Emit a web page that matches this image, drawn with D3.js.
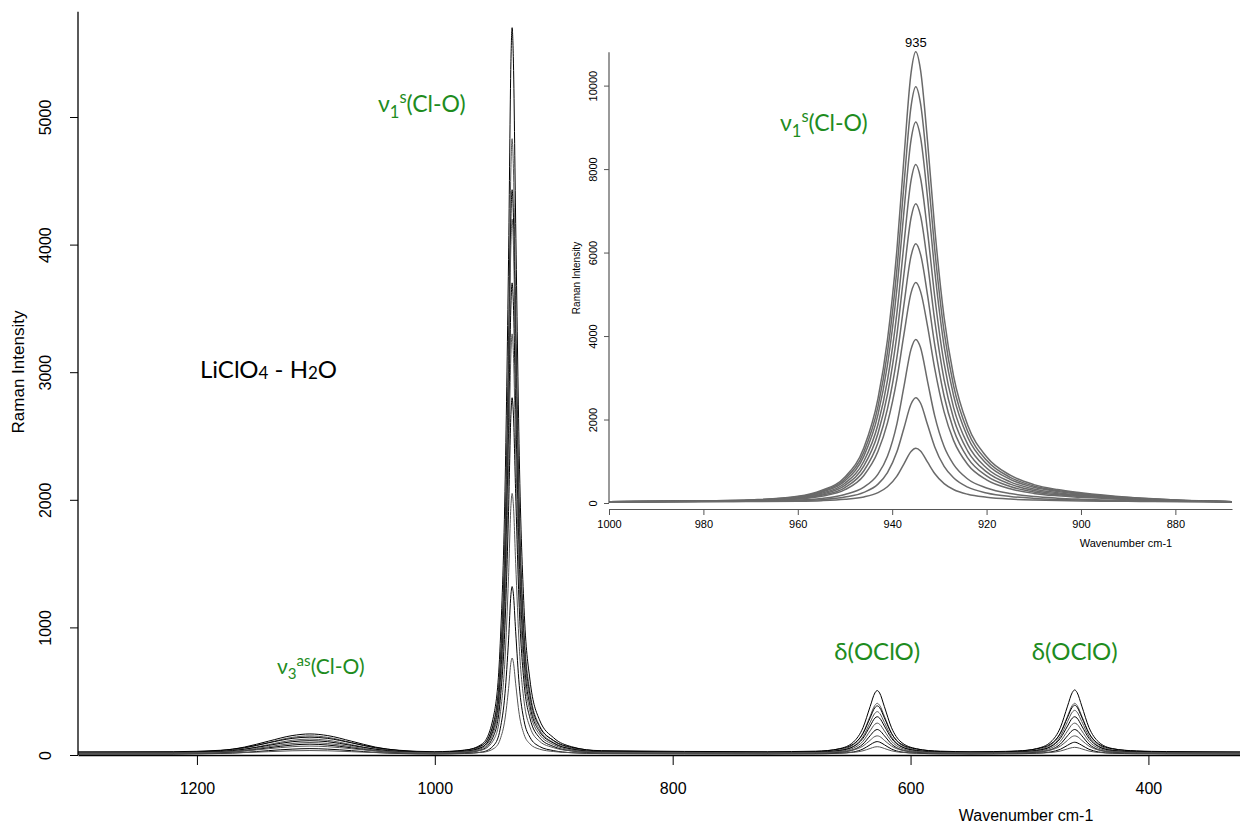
<!DOCTYPE html>
<html><head><meta charset="utf-8">
<script src="https://cdn.jsdelivr.net/npm/d3@7"></script>
<style>body{margin:0;background:#fff}svg{display:block}</style>
</head><body><svg id="c" width="1240" height="825"></svg>
<script>
// ---------- DATA ----------
const mainWavenumbers = [1300,1220,1180,1160,1140,1120,1105,1090,1070,1050,1030,1000,
  975,960,950,945,941,938,936,935,934,932,929,925,920,912,900,885,860,
  720,680,660,648,640,634,630,628,626,622,616,608,595,575,550,
  530,510,494,482,474,468,464,462,460,456,450,442,430,410,385,323];
const mainSeries = [
 [20,21,35,62,108,152,165,152,108,62,35,22, 37,88,332,872,2065,3882,5433,5700,5473,4166,2349,1156,588,276,134,65,31, 21,27,49,102,214,379,486,505,486,379,214,102,49,27,22, 23,30,50,103,216,383,490,510,490,383,216,103,50,30,23,20],
 [15,16,29,54,97,138,150,138,97,54,29,16, 29,73,280,737,1748,3289,4604,4830,4637,3530,1989,978,497,232,111,54,25, 16,21,38,81,171,304,389,405,389,304,171,81,38,21,17, 17,23,39,81,171,304,389,405,389,304,171,81,39,23,17,15],
 [25,26,37,58,95,130,140,130,95,58,37,26, 38,78,267,686,1611,3020,4223,4430,4254,3241,1831,906,466,223,113,60,34, 26,30,47,86,169,291,371,385,371,291,169,86,47,30,26, 27,32,48,87,171,295,375,390,375,295,171,87,48,32,27,25],
 [12,13,23,45,81,115,125,115,81,45,23,13, 25,62,242,640,1520,2860,4003,4200,4032,3069,1729,850,431,200,96,46,20, 13,17,32,68,143,255,327,340,327,255,143,68,32,17,13, 14,19,33,69,147,262,336,350,336,262,147,69,33,19,14,12],
 [18,18,27,45,75,104,112,104,75,45,27,19, 29,62,221,570,1344,2522,3527,3700,3553,2706,1528,754,386,184,92,47,25, 19,22,35,66,131,227,289,300,289,227,131,66,35,22,19, 20,24,35,66,131,227,289,300,289,227,131,66,35,24,20,18],
 [14,14,22,38,65,90,98,90,65,38,22,15, 24,53,195,507,1197,2248,3146,3300,3169,2413,1361,671,343,162,80,40,21, 15,18,28,54,108,189,241,250,241,189,108,54,28,18,15, 15,19,29,54,108,189,241,250,241,189,108,54,29,19,15,14],
 [10,10,18,32,56,78,85,78,56,32,18,11, 18,43,163,429,1014,1907,2669,2800,2688,2047,1154,568,289,136,66,32,16, 11,13,21,42,86,151,192,200,192,151,86,42,21,13,11, 11,14,22,42,86,151,192,200,192,151,86,42,22,14,11,10],
 [16,16,21,32,49,65,70,65,49,32,21,17, 22,40,128,321,748,1399,1954,2050,1969,1501,850,423,219,108,57,32,20, 16,18,24,39,70,115,145,150,145,115,70,39,24,18,17, 17,19,24,39,70,115,145,150,145,115,70,39,24,19,17,16],
 [8,8,12,20,34,46,50,46,34,20,12,8, 12,24,80,205,480,900,1258,1320,1268,966,546,270,139,67,34,18,11, 8,9,14,24,47,80,101,105,101,80,47,24,14,9,8, 9,10,14,24,45,76,96,100,96,76,45,24,14,10,9,8],
 [12,12,14,19,26,33,35,33,26,19,14,12, 14,21,53,124,281,521,725,760,730,558,319,162,87,46,27,18,13, 12,13,15,21,33,51,63,65,63,51,33,21,15,13,12, 12,13,15,20,31,48,58,60,58,48,31,20,15,13,12,12]
];
const mainColors = ["#000","#555"];
const mainXTicks = [1200,1000,800,600,400];
const mainYTicks = [0,1000,2000,3000,4000,5000];

const insetWavenumbers = [1000,980,970,960,955,950,946,943,941,939,937.5,936,935,934,932.5,931,929,927,924,920,915,910,905,900,890,880,868];
const insetSeries = [
 [30,52,73,159,300,623,1324,2509,3911,6067,8277,10303,10810,10379,8654,6606,4450,3048,1863,1108,666,440,321,246,138,73,30],
 [30,50,70,149,279,577,1223,2316,3608,5596,7634,9503,9970,9572,7982,6093,4105,2813,1720,1024,616,408,298,229,129,70,30],
 [30,48,66,139,258,531,1122,2123,3306,5126,6992,8702,9130,8766,7310,5581,3761,2578,1577,940,567,376,276,212,121,66,30],
 [30,46,62,127,232,474,1000,1888,2939,4555,6211,7730,8110,7787,6494,4959,3343,2292,1404,838,507,337,248,192,111,62,30],
 [30,44,59,116,209,423,887,1672,2600,4028,5492,6834,7170,6884,5742,4385,2957,2029,1244,744,451,301,223,173,101,59,30],
 [30,42,55,104,185,370,772,1451,2255,3491,4758,5920,6210,5963,4974,3800,2564,1760,1081,648,395,265,197,154,92,55,30],
 [30,41,51,93,161,319,660,1238,1920,2970,4046,5033,5280,5070,4230,3233,2183,1500,923,555,340,230,172,135,83,51,30],
 [30,38,46,69,108,205,380,691,1119,1897,2792,3687,3920,3726,2909,2092,1353,925,575,361,225,154,116,92,61,42,30],
 [30,35,40,55,80,142,254,453,727,1225,1798,2371,2520,2396,1873,1350,877,603,379,242,155,110,85,70,50,37,30],
 [30,33,35,43,56,88,145,248,388,644,939,1233,1310,1246,977,708,465,324,209,139,94,71,58,50,40,34,30]
];
const insetXTicks = [1000,980,960,940,920,900,880];
const insetYTicks = [0,2000,4000,6000,8000,10000];

// ---------- DRAW ----------
const svg = d3.select("#c");
svg.append("rect").attr("width",1240).attr("height",825).attr("fill","#fff");
const AX = "Liberation Sans, Arial, sans-serif";
const LBL = "Lato, 'Open Sans', sans-serif";
const GREEN = "#1e8c1e";

// main scales
const x = d3.scaleLinear().domain([1300, 323]).range([78, 1240]);
const y = d3.scaleLinear().domain([0, 5000]).range([755, 117]);

const mainLine = d3.line().x((d,i)=>x(mainWavenumbers[i])).y(d=>y(d)).curve(d3.curveMonotoneX);
svg.append("g").selectAll("path").data(mainSeries).join("path")
  .attr("d", mainLine).attr("fill","none")
  .attr("stroke",(d,i)=>mainColors[i%2]).attr("stroke-width",1);

// main axes
const gx = svg.append("g").attr("transform","translate(0,755)")
  .call(d3.axisBottom(x).tickValues(mainXTicks).tickSize(10).tickSizeOuter(0).tickFormat(d3.format("d")));
gx.select(".domain").attr("stroke","#000").attr("stroke-width",1.3);
gx.selectAll(".tick line").attr("stroke","#000");
gx.selectAll("text").attr("font-family",AX).attr("font-size",16).attr("y",28).attr("fill","#000");

const gy = svg.append("g").attr("transform","translate(78,0)")
  .call(d3.axisLeft(y).tickValues(mainYTicks).tickSize(8).tickFormat(d3.format("d")));
gy.select(".domain").remove();
gy.append("line").attr("x1",0).attr("x2",0).attr("y1",y(0)).attr("y2",y(5825)).attr("stroke","#000").attr("stroke-width",1.3);
gy.selectAll(".tick line").attr("stroke","#000");
gy.selectAll("text").attr("font-family",AX).attr("font-size",16).attr("fill","#000")
  .attr("transform","rotate(-90)").attr("x",0).attr("y",-27).attr("dy",0).attr("text-anchor","middle");

svg.append("text").attr("transform","translate(24,372) rotate(-90)").attr("text-anchor","middle")
  .attr("font-family",AX).attr("font-size",17).text("Raman Intensity");
svg.append("text").attr("x",1026).attr("y",821).attr("text-anchor","middle")
  .attr("font-family",AX).attr("font-size",16).text("Wavenumber cm-1");

// ---------- INSET ----------
const xi = d3.scaleLinear().domain([1000, 868]).range([609, 1232]);
const yi = d3.scaleLinear().domain([0, 10000]).range([503, 85.6]);

const insetLine = d3.line().x((d,i)=>xi(insetWavenumbers[i])).y(d=>yi(d)).curve(d3.curveMonotoneX);
svg.append("g").selectAll("path").data(insetSeries).join("path")
  .attr("d", insetLine).attr("fill","none").attr("stroke","#6a6a6a").attr("stroke-width",1.5);

const gxi = svg.append("g").attr("transform","translate(0,509)")
  .call(d3.axisBottom(xi).tickValues(insetXTicks).tickSize(6).tickSizeOuter(0).tickFormat(d3.format("d")));
gxi.select(".domain").attr("stroke","#555").attr("stroke-width",1.2);
gxi.selectAll(".tick line").attr("stroke","#555");
gxi.selectAll("text").attr("font-family",AX).attr("font-size",11).attr("y",11).attr("fill","#000");

const gyi = svg.append("g").attr("transform","translate(609,0)")
  .call(d3.axisLeft(yi).tickValues(insetYTicks).tickSize(5).tickFormat(d3.format("d")));
gyi.select(".domain").remove();
gyi.append("line").attr("x1",0).attr("x2",0).attr("y1",yi(0)).attr("y2",yi(10800)).attr("stroke","#555").attr("stroke-width",1.2);
gyi.selectAll(".tick line").attr("stroke","#555");
gyi.selectAll("text").attr("font-family",AX).attr("font-size",11).attr("fill","#000")
  .attr("transform","rotate(-90)").attr("x",0).attr("y",-12).attr("dy",0).attr("text-anchor","middle");

svg.append("text").attr("transform","translate(580,278) rotate(-90)").attr("text-anchor","middle")
  .attr("font-family",AX).attr("font-size",10).text("Raman Intensity");
svg.append("text").attr("x",1126).attr("y",547).attr("text-anchor","middle")
  .attr("font-family",AX).attr("font-size",11).text("Wavenumber cm-1");
svg.append("text").attr("x",xi(935)).attr("y",47).attr("text-anchor","middle")
  .attr("font-family",AX).attr("font-size",13).text("935");

// ---------- annotations ----------
function nuLabel(xp, yp, sub, sup, rest, size){
  const t = svg.append("text").attr("x",xp).attr("y",yp).attr("font-family",LBL)
    .attr("font-size",size).attr("fill",GREEN);
  t.append("tspan").text("ν");
  t.append("tspan").attr("font-size",size*0.72).attr("dy",size*0.25).text(sub);
  t.append("tspan").attr("font-size",size*0.72).attr("dy",-size*0.62).text(sup);
  t.append("tspan").attr("dy",size*0.37).text(rest);
}
nuLabel(378,112,"1","s","(Cl-O)",23);
nuLabel(780,131,"1","s","(Cl-O)",23);
nuLabel(277,674,"3","as","(Cl-O)",21);
svg.append("text").attr("x",x(628)).attr("y",660).attr("text-anchor","middle")
  .attr("font-family",LBL).attr("font-size",24).attr("fill",GREEN).text("δ(OClO)");
svg.append("text").attr("x",x(462)).attr("y",660).attr("text-anchor","middle")
  .attr("font-family",LBL).attr("font-size",24).attr("fill",GREEN).text("δ(OClO)");

const li = svg.append("text").attr("x",200).attr("y",378).attr("font-family",LBL).attr("font-size",24).attr("fill","#000");
li.append("tspan").text("LiClO");
li.append("tspan").attr("font-size",17).attr("dy",1).text("4");
li.append("tspan").attr("font-size",24).attr("dy",-1).text(" - H");
li.append("tspan").attr("font-size",17).attr("dy",1).text("2");
li.append("tspan").attr("font-size",24).attr("dy",-1).text("O");
</script></body></html>
